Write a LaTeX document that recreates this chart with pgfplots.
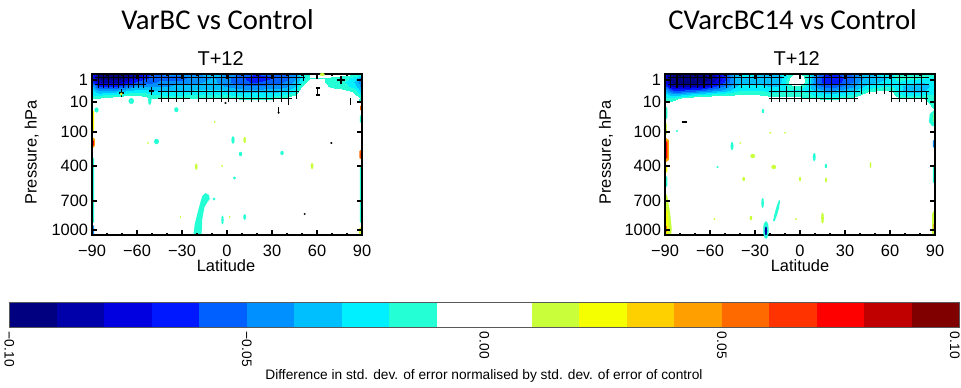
\documentclass[border=0pt]{standalone}
\usepackage{fontspec}
\setmainfont{Liberation Sans}
\newfontfamily\titlefont{Carlito}
\usepackage{pgfplots}
\pgfplotsset{compat=1.18}

% 20-step diverging scale, -0.10 ... 0.10 in steps of 0.01
\definecolor{c1}{RGB}{0,0,128}
\definecolor{c2}{RGB}{0,0,170}
\definecolor{c3}{RGB}{0,0,225}
\definecolor{c4}{RGB}{0,24,255}
\definecolor{c5}{RGB}{0,96,255}
\definecolor{c6}{RGB}{0,144,255}
\definecolor{c7}{RGB}{0,191,255}
\definecolor{c8}{RGB}{0,240,255}
\definecolor{c9}{RGB}{37,255,213}
\definecolor{c10}{RGB}{255,255,255}
\definecolor{c11}{RGB}{255,255,255}
\definecolor{c12}{RGB}{200,255,58}
\definecolor{c13}{RGB}{245,255,0}
\definecolor{c14}{RGB}{255,208,0}
\definecolor{c15}{RGB}{255,160,0}
\definecolor{c16}{RGB}{255,106,0}
\definecolor{c17}{RGB}{255,51,0}
\definecolor{c18}{RGB}{255,0,0}
\definecolor{c19}{RGB}{192,0,0}
\definecolor{c20}{RGB}{128,0,0}

\pgfplotsset{
  colormap={diff}{rgb255=(0,0,128) rgb255=(0,0,170) rgb255=(0,0,225) rgb255=(0,24,255)
    rgb255=(0,96,255) rgb255=(0,144,255) rgb255=(0,191,255) rgb255=(0,240,255)
    rgb255=(37,255,213) rgb255=(255,255,255) rgb255=(255,255,255) rgb255=(200,255,58)
    rgb255=(245,255,0) rgb255=(255,208,0) rgb255=(255,160,0) rgb255=(255,106,0)
    rgb255=(255,51,0) rgb255=(255,0,0) rgb255=(192,0,0) rgb255=(128,0,0) rgb255=(128,0,0)},
  panel/.style={
    scale only axis, width=202.5pt, height=120.75pt, anchor=south west,
    xmin=-90, xmax=90, ymin=0, ymax=161, y dir=reverse,
    xtick={-90,-60,-30,0,30,60,90},
    xticklabels={−90,−60,−30,0,30,60,90},
    minor xtick={-80,-70,-50,-40,-20,-10,10,20,40,50,70,80},
    ytick={6,28,58,92,127,156},
    yticklabels={1,10,100,400,700,1000},
    tick align=inside, tick pos=both,
    major tick length=3.75pt, minor tick length=1.8pt,
    every tick/.style={black, line width=1.2pt},
    axis line style={line width=1.3pt},
    tick label style={font=\fontsize{12.3}{14}\selectfont, inner sep=0pt},
    xticklabel style={yshift=-7.5pt},
    yticklabel style={xshift=-2.8pt},
    colormap name=diff, colormap access=piecewise constant,
    point meta min=-10, point meta max=10,
    unbounded coords=jump,
    axis on top,
  },
  hatch/.style={black, line width=0.9pt},
  blob/.style n args={3}{only marks, mark=*, color=#1, mark size=#2,
    mark options={fill=#1, draw=#1, line width=0.1pt, yscale=#3}},
  edge/.style={fill=#1, draw=none},
}

\begin{document}
\begin{tikzpicture}
\path[use as bounding box] (0,0) rectangle (720.75pt,290.25pt);

% ---------------- VarBC vs Control ----------------
\begin{axis}[panel, at={(69pt,114pt)}]
% values in units of 0.01; y is the model-level position (top = 1 hPa)
\addplot[surf, shader=interp, mesh/ordering=y varies, mesh/rows=10, mesh/cols=37,
  point meta=explicit] table[row sep=\\, meta=v] {
lat u v\\
-90 0 -6\\ -90 4 -7\\ -90 8 -6\\ -90 12 -4\\ -90 16 -3\\ -90 20 -2.5\\ -90 24 -1.5\\ -90 28 -0.5\\ -90 32 -1.5\\ -90 36 -1\\
-85 0 -9.5\\ -85 4 -9.5\\ -85 8 -8.5\\ -85 12 -6.5\\ -85 16 -4.5\\ -85 20 -3\\ -85 24 -1.5\\ -85 28 -0.5\\ -85 32 0\\ -85 36 0\\
-80 0 -9.5\\ -80 4 -9.5\\ -80 8 -8.5\\ -80 12 -6.5\\ -80 16 -4.5\\ -80 20 -2.5\\ -80 24 -1.2\\ -80 28 0\\ -80 32 0\\ -80 36 0\\
-75 0 -9.5\\ -75 4 -9.5\\ -75 8 -8.5\\ -75 12 -6.5\\ -75 16 -4.5\\ -75 20 -2.5\\ -75 24 -1\\ -75 28 0\\ -75 32 0\\ -75 36 0\\
-70 0 -9.5\\ -70 4 -9.3\\ -70 8 -8\\ -70 12 -6\\ -70 16 -4\\ -70 20 -2.5\\ -70 24 -0.5\\ -70 28 0\\ -70 32 0\\ -70 36 0\\
-65 0 -9\\ -65 4 -8.5\\ -65 8 -7\\ -65 12 -5.5\\ -65 16 -3.5\\ -65 20 -2\\ -65 24 -0.5\\ -65 28 0\\ -65 32 0\\ -65 36 0\\
-60 0 -8\\ -60 4 -7.5\\ -60 8 -6\\ -60 12 -4.5\\ -60 16 -3.2\\ -60 20 -2\\ -60 24 -0.8\\ -60 28 0\\ -60 32 0\\ -60 36 0\\
-55 0 -7\\ -55 4 -6.5\\ -55 8 -5.5\\ -55 12 -4.5\\ -55 16 -3\\ -55 20 -2\\ -55 24 -1\\ -55 28 0\\ -55 32 0\\ -55 36 0\\
-50 0 -6\\ -50 4 -6\\ -50 8 -5.5\\ -50 12 -4.5\\ -50 16 -3.5\\ -50 20 -2.5\\ -50 24 -1.5\\ -50 28 -0.5\\ -50 32 0\\ -50 36 0\\
-45 0 -5.5\\ -45 4 -5.5\\ -45 8 -5\\ -45 12 -4.5\\ -45 16 -3.5\\ -45 20 -2.5\\ -45 24 -1.5\\ -45 28 0\\ -45 32 0\\ -45 36 0\\
-40 0 -5\\ -40 4 -5.5\\ -40 8 -5\\ -40 12 -4.5\\ -40 16 -3.5\\ -40 20 -2.8\\ -40 24 -1.5\\ -40 28 -0.5\\ -40 32 0\\ -40 36 0\\
-35 0 -5\\ -35 4 -5.5\\ -35 8 -5\\ -35 12 -4\\ -35 16 -3.5\\ -35 20 -2.8\\ -35 24 -1.5\\ -35 28 -0.5\\ -35 32 0\\ -35 36 0\\
-30 0 -5\\ -30 4 -5.5\\ -30 8 -5\\ -30 12 -4\\ -30 16 -3.5\\ -30 20 -2.8\\ -30 24 -1.5\\ -30 28 -0.5\\ -30 32 0\\ -30 36 0\\
-25 0 -4.5\\ -25 4 -5\\ -25 8 -4.5\\ -25 12 -4\\ -25 16 -3.5\\ -25 20 -2.5\\ -25 24 -1.5\\ -25 28 -0.5\\ -25 32 0\\ -25 36 0\\
-20 0 -4.5\\ -20 4 -5\\ -20 8 -4.5\\ -20 12 -4\\ -20 16 -3.2\\ -20 20 -2.5\\ -20 24 -1.5\\ -20 28 -0.5\\ -20 32 0\\ -20 36 0\\
-15 0 -4\\ -15 4 -4.5\\ -15 8 -4.2\\ -15 12 -3.8\\ -15 16 -3.2\\ -15 20 -2.5\\ -15 24 -1.5\\ -15 28 -0.5\\ -15 32 0\\ -15 36 0\\
-10 0 -4\\ -10 4 -4.2\\ -10 8 -4\\ -10 12 -3.8\\ -10 16 -3.2\\ -10 20 -2.5\\ -10 24 -1.5\\ -10 28 -0.5\\ -10 32 0\\ -10 36 0\\
-5 0 -4\\ -5 4 -4.5\\ -5 8 -4.5\\ -5 12 -4\\ -5 16 -3.2\\ -5 20 -2.5\\ -5 24 -1.5\\ -5 28 -0.5\\ -5 32 0\\ -5 36 0\\
0 0 -4.5\\ 0 4 -5\\ 0 8 -5\\ 0 12 -4.5\\ 0 16 -3.5\\ 0 20 -2.5\\ 0 24 -1.5\\ 0 28 -0.5\\ 0 32 0\\ 0 36 0\\
5 0 -5\\ 5 4 -5.5\\ 5 8 -5.5\\ 5 12 -4.8\\ 5 16 -3.8\\ 5 20 -2.8\\ 5 24 -1.5\\ 5 28 -0.5\\ 5 32 0\\ 5 36 0\\
10 0 -5.5\\ 10 4 -6\\ 10 8 -5.8\\ 10 12 -5\\ 10 16 -4\\ 10 20 -3\\ 10 24 -1.8\\ 10 28 -0.5\\ 10 32 0\\ 10 36 0\\
15 0 -6\\ 15 4 -6.5\\ 15 8 -6.2\\ 15 12 -5.2\\ 15 16 -4.2\\ 15 20 -3\\ 15 24 -1.8\\ 15 28 -0.5\\ 15 32 0\\ 15 36 0\\
20 0 -6.2\\ 20 4 -6.5\\ 20 8 -6.2\\ 20 12 -5.2\\ 20 16 -4.2\\ 20 20 -3\\ 20 24 -1.8\\ 20 28 -0.5\\ 20 32 0\\ 20 36 0\\
25 0 -6\\ 25 4 -6.5\\ 25 8 -6\\ 25 12 -5\\ 25 16 -4\\ 25 20 -3\\ 25 24 -1.8\\ 25 28 -0.5\\ 25 32 0\\ 25 36 0\\
30 0 -5.8\\ 30 4 -6.2\\ 30 8 -5.8\\ 30 12 -5\\ 30 16 -4\\ 30 20 -3\\ 30 24 -1.8\\ 30 28 -0.5\\ 30 32 0\\ 30 36 0\\
35 0 -5.5\\ 35 4 -6\\ 35 8 -5.5\\ 35 12 -4.8\\ 35 16 -3.8\\ 35 20 -2.8\\ 35 24 -1.5\\ 35 28 -0.5\\ 35 32 0\\ 35 36 0\\
40 0 -5\\ 40 4 -5.5\\ 40 8 -5\\ 40 12 -4.5\\ 40 16 -3.5\\ 40 20 -2.5\\ 40 24 -1.2\\ 40 28 0\\ 40 32 0\\ 40 36 0\\
45 0 -4.5\\ 45 4 -4.5\\ 45 8 -4\\ 45 12 -3.5\\ 45 16 -2.8\\ 45 20 -1.8\\ 45 24 -0.5\\ 45 28 0\\ 45 32 0\\ 45 36 0\\
50 0 -2.5\\ 50 4 -3\\ 50 8 -2.5\\ 50 12 -1.5\\ 50 16 -0.5\\ 50 20 0\\ 50 24 0\\ 50 28 0\\ 50 32 0\\ 50 36 0\\
55 0 -1.2\\ 55 4 -1.5\\ 55 8 -0.5\\ 55 12 0\\ 55 16 0\\ 55 20 0\\ 55 24 0\\ 55 28 0\\ 55 32 0\\ 55 36 0\\
60 0 -1.2\\ 60 4 -1.5\\ 60 8 -0.5\\ 60 12 0\\ 60 16 0\\ 60 20 0\\ 60 24 0\\ 60 28 0\\ 60 32 0\\ 60 36 0\\
65 0 -0.5\\ 65 4 -1.5\\ 65 8 -1.5\\ 65 12 -1.2\\ 65 16 -0.5\\ 65 20 0\\ 65 24 0\\ 65 28 0\\ 65 32 0\\ 65 36 0\\
70 0 -0.5\\ 70 4 -1.8\\ 70 8 -2\\ 70 12 -1.8\\ 70 16 -1\\ 70 20 0\\ 70 24 0\\ 70 28 0\\ 70 32 0\\ 70 36 0\\
75 0 -0.8\\ 75 4 -2\\ 75 8 -2.2\\ 75 12 -2\\ 75 16 -1.2\\ 75 20 0\\ 75 24 0\\ 75 28 0\\ 75 32 0\\ 75 36 0\\
80 0 -1\\ 80 4 -2.2\\ 80 8 -2.5\\ 80 12 -2.2\\ 80 16 -1.5\\ 80 20 -0.5\\ 80 24 0\\ 80 28 0\\ 80 32 0\\ 80 36 0\\
85 0 -1.5\\ 85 4 -3\\ 85 8 -3.5\\ 85 12 -3\\ 85 16 -2\\ 85 20 -1.5\\ 85 24 -0.5\\ 85 28 -1.2\\ 85 32 0\\ 85 36 0\\
90 0 -2\\ 90 4 -5\\ 90 8 -5.5\\ 90 12 -5\\ 90 16 -4\\ 90 20 -3\\ 90 24 -2\\ 90 28 -1.5\\ 90 32 -1.2\\ 90 36 0\\
};
% strips along the polar edges
\addplot[edge=c13] coordinates {(-91,34) (-88.5,38) (-88.7,58) (-91,62)} --cycle;
\addplot[edge=c15] coordinates {(-91,62) (-88,65) (-88,72) (-91,76)} --cycle;
\addplot[edge=c18] coordinates {(-91,64) (-88.8,67) (-88.8,71) (-91,73)} --cycle;
\addplot[edge=c9] coordinates {(-91,80) (-88.5,85) (-88.5,148) (-91,152)} --cycle;
\addplot[edge=c6] coordinates {(-91,150) (-88.5,152) (-88.5,162) (-91,162)} --cycle;
\addplot[edge=c16] coordinates {(91,30) (88.8,32) (88.8,36) (91,38)} --cycle;
\addplot[edge=c9] coordinates {(91,40) (88.5,42) (88.5,48) (91,50)} --cycle;
\addplot[edge=c16] coordinates {(91,74) (88.3,77) (88.3,84) (91,87)} --cycle;
\addplot[edge=c18] coordinates {(91,77) (89,79) (89,83) (91,85)} --cycle;
\addplot[edge=c9] coordinates {(91,88) (88.6,92) (88.6,148) (91,152)} --cycle;
\addplot[edge=c12] coordinates {(91,150) (88,155) (88,162) (91,162)} --cycle;
% long streak in the lower troposphere
\addplot[edge=c9] coordinates {(-22.5,162) (-21.5,150) (-19.5,138) (-17.5,127) (-16.5,122)
  (-14.5,119) (-12,121) (-11.5,125) (-13,128) (-15,133) (-16.5,145) (-17,162)} --cycle;
% isolated small patches
\addplot[blob={c9}{1.8pt}{1.1}] coordinates {(-47,67.5)};
\addplot[blob={c9}{1.1pt}{2.5}] coordinates {(4,66)};
\addplot[blob={c12}{0.9pt}{2.5}] coordinates {(11.8,66)};
\addplot[blob={c9}{1.2pt}{1.3}] coordinates {(9,80) (36.7,79)};
\addplot[blob={c12}{0.9pt}{2.5}] coordinates {(-20.5,92.7) (56.7,92)};
\addplot[blob={c9}{1pt}{1}] coordinates {(5,104) (-8.7,125)};
\addplot[blob={c9}{0.8pt}{4}] coordinates {(-3,146)};
\addplot[blob={c9}{1pt}{2}] coordinates {(11.8,143)};
\addplot[blob={c9}{2pt}{1.1}] coordinates {(-63.8,27)};
\addplot[blob={c9}{1.2pt}{3}] coordinates {(-51.5,26)};
\addplot[blob={c9}{1.5pt}{1.2}] coordinates {(-33.8,35.7) (-87,36)};
\addplot[blob={c12}{1pt}{1}] coordinates {(-70.5,20)};
\addplot[blob={c12}{1.8pt}{0.6}] coordinates {(63.5,0.5)};
\addplot[blob={c12}{0.5pt}{1.5}] coordinates {(-52.7,69) (-8.2,48) (-31,143) (1.8,143) (-3.3,92)};
\addplot[blob={black}{0.7pt}{1}] coordinates {(51.8,140) (69.6,69) (34.4,38.7) (-1,29)};
% significance hatching
\addplot[hatch] coordinates {
 (-85.8,0.5) (-85.8,13.5) (nan,nan) (-82.5,0.5) (-82.5,13.5) (nan,nan)
 (-79.2,0.5) (-79.2,13.5) (nan,nan) (-75.8,0.5) (-75.8,13.5) (nan,nan)
 (-72.5,0.5) (-72.5,13.5) (nan,nan) (-69.2,0.5) (-69.2,13.5) (nan,nan)
 (-65.8,0.5) (-65.8,13.5) (nan,nan) (-62.5,0.5) (-62.5,13.5) (nan,nan)
 (-59.2,0.5) (-59.2,13.5) (nan,nan) (-55.8,0.5) (-55.8,13.5) (nan,nan)
 (-53.75,0.5) (-53.75,8) (nan,nan) (-48.75,0.5) (-48.75,8) (nan,nan)
 (-43.75,0.5) (-43.75,28) (nan,nan) (-38.75,0.5) (-38.75,28) (nan,nan)
 (-33.75,0.5) (-33.75,28) (nan,nan) (-28.75,0.5) (-28.75,28) (nan,nan)
 (-23.75,0.5) (-23.75,21) (nan,nan) (-18.75,0.5) (-18.75,28) (nan,nan)
 (-13.75,0.5) (-13.75,28) (nan,nan) (-8.75,0.5) (-8.75,28) (nan,nan)
 (-3.75,0.5) (-3.75,28) (nan,nan) (1.25,0.5) (1.25,28) (nan,nan)
 (6.25,0.5) (6.25,28) (nan,nan) (11.25,0.5) (11.25,28) (nan,nan)
 (16.25,0.5) (16.25,28) (nan,nan) (21.25,0.5) (21.25,28) (nan,nan)
 (26.25,0.5) (26.25,28) (nan,nan) (31.25,0.5) (31.25,28) (nan,nan)
 (36.25,0.5) (36.25,28) (nan,nan) (41.25,0.5) (41.25,31) (nan,nan)
 (46.25,0.5) (46.25,25) (nan,nan) (51.25,0.5) (51.25,7) (nan,nan)
 (-88,3.5) (52,3.5) (nan,nan) (-88,10.5) (-54,10.5) (nan,nan) (-46,10.5) (49,10.5) (nan,nan)
 (-46,17.5) (48,17.5) (nan,nan) (-46,24.5) (-24.5,24.5) (nan,nan) (-19.5,24.5) (43,24.5) (nan,nan)
 (-70.5,15) (-70.5,23) (nan,nan) (-72,19) (-69,19) (nan,nan)
 (-50.5,13) (-50.5,21) (nan,nan) (-52,17) (-49,17) (nan,nan)
 (60.5,13) (60.5,22) (nan,nan) (59,14) (62,14) (nan,nan) (59,21) (62,21) (nan,nan)
 (76,2) (76,10) (nan,nan) (73.5,6) (78.5,6) (nan,nan)
 (82.5,24) (82.5,31) (nan,nan) (34.5,33) (34.5,39)
};
\end{axis}

% ---------------- CVarcBC14 vs Control ----------------
\begin{axis}[panel, at={(498.75pt,114pt)}]
\addplot[surf, shader=interp, mesh/ordering=y varies, mesh/rows=10, mesh/cols=37,
  point meta=explicit] table[row sep=\\, meta=v] {
lat u v\\
-90 0 -7\\ -90 4 -8\\ -90 8 -7.5\\ -90 12 -6\\ -90 16 -4\\ -90 20 -3\\ -90 24 -2\\ -90 28 -1.5\\ -90 32 -1.2\\ -90 36 -0.5\\
-85 0 -9.5\\ -85 4 -9.6\\ -85 8 -9.5\\ -85 12 -8.5\\ -85 16 -6.5\\ -85 20 -4\\ -85 24 -2\\ -85 28 -1.2\\ -85 32 -0.5\\ -85 36 0\\
-80 0 -9.5\\ -80 4 -9.6\\ -80 8 -9.5\\ -80 12 -8.5\\ -80 16 -6.5\\ -80 20 -4\\ -80 24 -1.5\\ -80 28 -0.5\\ -80 32 0\\ -80 36 0\\
-75 0 -9.5\\ -75 4 -9.6\\ -75 8 -9.5\\ -75 12 -8.5\\ -75 16 -6\\ -75 20 -3.5\\ -75 24 -1.2\\ -75 28 0\\ -75 32 0\\ -75 36 0\\
-70 0 -9.5\\ -70 4 -9.6\\ -70 8 -9.4\\ -70 12 -8.2\\ -70 16 -6\\ -70 20 -3\\ -70 24 -0.8\\ -70 28 0\\ -70 32 0\\ -70 36 0\\
-65 0 -9.3\\ -65 4 -9.5\\ -65 8 -9.2\\ -65 12 -8\\ -65 16 -5.5\\ -65 20 -2.8\\ -65 24 -0.5\\ -65 28 0\\ -65 32 0\\ -65 36 0\\
-60 0 -8.5\\ -60 4 -9\\ -60 8 -8.5\\ -60 12 -7\\ -60 16 -5\\ -60 20 -2.5\\ -60 24 -0.5\\ -60 28 0\\ -60 32 0\\ -60 36 0\\
-55 0 -7.5\\ -55 4 -8\\ -55 8 -7.5\\ -55 12 -6\\ -55 16 -4.5\\ -55 20 -2\\ -55 24 -0.5\\ -55 28 0\\ -55 32 0\\ -55 36 0\\
-50 0 -6\\ -50 4 -6.5\\ -50 8 -6\\ -50 12 -5\\ -50 16 -4\\ -50 20 -2\\ -50 24 -0.5\\ -50 28 0\\ -50 32 0\\ -50 36 0\\
-45 0 -4\\ -45 4 -4.5\\ -45 8 -4.5\\ -45 12 -4\\ -45 16 -3\\ -45 20 -1.8\\ -45 24 -0.5\\ -45 28 0\\ -45 32 0\\ -45 36 0\\
-40 0 -3.2\\ -40 4 -3.5\\ -40 8 -3.5\\ -40 12 -3\\ -40 16 -2.5\\ -40 20 -1.5\\ -40 24 -0.5\\ -40 28 0\\ -40 32 0\\ -40 36 0\\
-35 0 -3\\ -35 4 -3.5\\ -35 8 -3.5\\ -35 12 -3\\ -35 16 -2.5\\ -35 20 -1.5\\ -35 24 -0.5\\ -35 28 0\\ -35 32 0\\ -35 36 0\\
-30 0 -3.2\\ -30 4 -3.8\\ -30 8 -3.5\\ -30 12 -3\\ -30 16 -2.5\\ -30 20 -1.5\\ -30 24 -0.5\\ -30 28 0\\ -30 32 0\\ -30 36 0\\
-25 0 -3.5\\ -25 4 -4\\ -25 8 -3.8\\ -25 12 -3.2\\ -25 16 -2.5\\ -25 20 -1.8\\ -25 24 -0.8\\ -25 28 0\\ -25 32 0\\ -25 36 0\\
-20 0 -3.8\\ -20 4 -4.2\\ -20 8 -4\\ -20 12 -3.5\\ -20 16 -2.8\\ -20 20 -2\\ -20 24 -1.2\\ -20 28 -0.5\\ -20 32 0\\ -20 36 0\\
-15 0 -3.5\\ -15 4 -4\\ -15 8 -3.8\\ -15 12 -3.5\\ -15 16 -2.8\\ -15 20 -2\\ -15 24 -1.2\\ -15 28 -0.5\\ -15 32 0\\ -15 36 0\\
-10 0 -2.5\\ -10 4 -2.8\\ -10 8 -2.5\\ -10 12 -2.8\\ -10 16 -2.5\\ -10 20 -2\\ -10 24 -1.2\\ -10 28 -0.5\\ -10 32 0\\ -10 36 0\\
-5 0 -1.5\\ -5 4 -0.5\\ -5 8 0\\ -5 12 -1.5\\ -5 16 -2.5\\ -5 20 -2\\ -5 24 -1.2\\ -5 28 -0.5\\ -5 32 0\\ -5 36 0\\
0 0 -1.5\\ 0 4 -0.5\\ 0 8 0\\ 0 12 -1.5\\ 0 16 -2.5\\ 0 20 -2\\ 0 24 -1.2\\ 0 28 -0.5\\ 0 32 0\\ 0 36 0\\
5 0 -2.5\\ 5 4 -2.5\\ 5 8 -2.5\\ 5 12 -2.8\\ 5 16 -2.8\\ 5 20 -2.2\\ 5 24 -1.2\\ 5 28 -0.5\\ 5 32 0\\ 5 36 0\\
10 0 -4.5\\ 10 4 -5\\ 10 8 -5\\ 10 12 -4.5\\ 10 16 -3.5\\ 10 20 -2.8\\ 10 24 -1.5\\ 10 28 -0.5\\ 10 32 0\\ 10 36 0\\
15 0 -6\\ 15 4 -6.5\\ 15 8 -6.5\\ 15 12 -5.5\\ 15 16 -4.2\\ 15 20 -3\\ 15 24 -1.8\\ 15 28 -0.5\\ 15 32 0\\ 15 36 0\\
20 0 -6.5\\ 20 4 -7\\ 20 8 -6.8\\ 20 12 -5.8\\ 20 16 -4.5\\ 20 20 -3.2\\ 20 24 -1.8\\ 20 28 -0.5\\ 20 32 0\\ 20 36 0\\
25 0 -6.2\\ 25 4 -6.8\\ 25 8 -6.5\\ 25 12 -5.5\\ 25 16 -4.2\\ 25 20 -3\\ 25 24 -1.8\\ 25 28 -0.5\\ 25 32 0\\ 25 36 0\\
30 0 -5.5\\ 30 4 -6\\ 30 8 -5.8\\ 30 12 -5\\ 30 16 -4\\ 30 20 -2.8\\ 30 24 -1.5\\ 30 28 -0.5\\ 30 32 0\\ 30 36 0\\
35 0 -5\\ 35 4 -5.5\\ 35 8 -5.2\\ 35 12 -4.5\\ 35 16 -3.5\\ 35 20 -2.5\\ 35 24 -1.2\\ 35 28 0\\ 35 32 0\\ 35 36 0\\
40 0 -4\\ 40 4 -4.5\\ 40 8 -4.2\\ 40 12 -3.8\\ 40 16 -2.8\\ 40 20 -1.8\\ 40 24 -0.5\\ 40 28 0\\ 40 32 0\\ 40 36 0\\
45 0 -3.5\\ 45 4 -4\\ 45 8 -3.8\\ 45 12 -3\\ 45 16 -2\\ 45 20 -0.8\\ 45 24 0\\ 45 28 0\\ 45 32 0\\ 45 36 0\\
50 0 -3.2\\ 50 4 -3.8\\ 50 8 -3.5\\ 50 12 -2.8\\ 50 16 -1.8\\ 50 20 -0.5\\ 50 24 0\\ 50 28 0\\ 50 32 0\\ 50 36 0\\
55 0 -3\\ 55 4 -3.5\\ 55 8 -3.2\\ 55 12 -2.5\\ 55 16 -1.5\\ 55 20 -0.5\\ 55 24 0\\ 55 28 0\\ 55 32 0\\ 55 36 0\\
60 0 -2.8\\ 60 4 -3.2\\ 60 8 -3\\ 60 12 -2.5\\ 60 16 -1.5\\ 60 20 -0.5\\ 60 24 0\\ 60 28 0\\ 60 32 0\\ 60 36 0\\
65 0 -1.5\\ 65 4 -2\\ 65 8 -2.5\\ 65 12 -3\\ 65 16 -3\\ 65 20 -2.5\\ 65 24 -1.2\\ 65 28 0\\ 65 32 0\\ 65 36 0\\
70 0 -1.5\\ 70 4 -2\\ 70 8 -2.8\\ 70 12 -3.5\\ 70 16 -3.5\\ 70 20 -2.8\\ 70 24 -1.5\\ 70 28 -0.5\\ 70 32 0\\ 70 36 0\\
75 0 -1.5\\ 75 4 -2\\ 75 8 -3\\ 75 12 -4\\ 75 16 -4\\ 75 20 -3\\ 75 24 -1.5\\ 75 28 -0.5\\ 75 32 0\\ 75 36 0\\
80 0 -1.5\\ 80 4 -2.2\\ 80 8 -3.2\\ 80 12 -4.2\\ 80 16 -4\\ 80 20 -3\\ 80 24 -1.5\\ 80 28 -0.5\\ 80 32 0\\ 80 36 0\\
85 0 -1.8\\ 85 4 -2.5\\ 85 8 -3\\ 85 12 -3.5\\ 85 16 -3\\ 85 20 -2.5\\ 85 24 -1.8\\ 85 28 -1.5\\ 85 32 -1.2\\ 85 36 -1\\
90 0 -2\\ 90 4 -2.5\\ 90 8 -2.5\\ 90 12 -2.5\\ 90 16 -2.5\\ 90 20 -2.5\\ 90 24 -2.2\\ 90 28 -2\\ 90 32 -1.8\\ 90 36 -1.5\\
};
% strips along the polar edges
\addplot[edge=c9] coordinates {(-91,30) (-88.5,34) (-88.5,44) (-91,48)} --cycle;
\addplot[edge=c12] coordinates {(-91,46) (-88.8,50) (-88.8,60) (-91,64)} --cycle;
\addplot[edge=c15] coordinates {(-91,62) (-87.5,66) (-87.5,86) (-91,90)} --cycle;
\addplot[edge=c18] coordinates {(-91,65) (-88.5,68) (-88.5,84) (-91,86)} --cycle;
\addplot[edge=c13] coordinates {(-91,88) (-88.5,92) (-88.5,98) (-91,100)} --cycle;
\addplot[edge=c9] coordinates {(-91,100) (-88.5,103) (-88.5,112) (-91,115)} --cycle;
\addplot[edge=c12] coordinates {(-91,115) (-88.5,122) (-86.5,140) (-85.5,155) (-86,162) (-91,162)} --cycle;
\addplot[edge=c13] coordinates {(-91,130) (-88.2,138) (-87.5,152) (-88,162) (-91,162)} --cycle;
\addplot[edge=c17] coordinates {(-91,150) (-89,152) (-89,158) (-91,160)} --cycle;
\addplot[edge=c9] coordinates {(91,34) (86.5,40) (86,48) (88,52) (91,52)} --cycle;
\addplot[edge=c13] coordinates {(91,36) (89,40) (89,48) (91,50)} --cycle;
\addplot[edge=c6] coordinates {(91,64) (88.5,67) (88.5,73) (91,75)} --cycle;
\addplot[edge=c9] coordinates {(91,88) (88.5,92) (88.5,108) (91,112)} --cycle;
\addplot[edge=c12] coordinates {(91,132) (88,140) (88,162) (91,162)} --cycle;
\addplot[edge=c17] coordinates {(91,148) (89,150) (89,155) (91,157)} --cycle;
% thin streak near 15S
\addplot[edge=c9] coordinates {(-18,147) (-17,140) (-15.5,132) (-14,126) (-13.3,127)
  (-14,134) (-15.3,141) (-16.8,147)} --cycle;
% isolated small patches
\addplot[blob={c9}{1pt}{3}] coordinates {(-45.3,72) (9.5,83)};
\addplot[blob={c12}{0.6pt}{1}] coordinates {(-39.8,69) (-57,145) (-2.7,145) (-19.8,58.7) (-10,58.7)};
\addplot[blob={c12}{1.7pt}{0.9}] coordinates {(-31.5,82) (-17.5,93)};
\addplot[blob={c9}{0.8pt}{2}] coordinates {(17.3,92) (-24.7,37)};
\addplot[blob={c12}{0.9pt}{1.8}] coordinates {(-37.5,105) (-32.7,144)};
\addplot[blob={c12}{0.7pt}{2.5}] coordinates {(0,105) (17.3,106)};
\addplot[blob={c12}{0.5pt}{4}] coordinates {(47,91)};
\addplot[blob={c9}{0.9pt}{4}] coordinates {(-24.9,129)};
\addplot[blob={c12}{1pt}{4}] coordinates {(15,144)};
\addplot[blob={c9}{2pt}{3.2}] coordinates {(-22.7,156)};
\addplot[blob={c2}{0.8pt}{4}] coordinates {(-22.7,157)};
\addplot[blob={c9}{0.7pt}{1}] coordinates {(-82,57) (-55,93)};
% significance hatching
\addplot[hatch] coordinates {
 (-86.5,0.5) (-86.5,13.5) (nan,nan) (-82,0.5) (-82,13.5) (nan,nan)
 (-77.5,0.5) (-77.5,13.5) (nan,nan) (-73,0.5) (-73,13.5) (nan,nan)
 (-68.5,0.5) (-68.5,13.5) (nan,nan) (-64,0.5) (-64,13.5) (nan,nan)
 (-58.75,0.5) (-58.75,13.5) (nan,nan) (-53.75,0.5) (-53.75,13.5) (nan,nan)
 (-48.75,0.5) (-48.75,13.5) (nan,nan) (-43.75,0.5) (-43.75,13.5) (nan,nan)
 (-38.75,0.5) (-38.75,13.5) (nan,nan) (-33.75,0.5) (-33.75,13.5) (nan,nan)
 (-28.75,0.5) (-28.75,13.5) (nan,nan) (-23.75,0.5) (-23.75,13.5) (nan,nan)
 (-18.75,0.5) (-18.75,28) (nan,nan) (-13.75,0.5) (-13.75,28) (nan,nan)
 (-8.75,12) (-8.75,28) (nan,nan) (-3.75,12) (-3.75,28) (nan,nan) (1.25,12) (1.25,28) (nan,nan)
 (6.25,0.5) (6.25,28) (nan,nan) (11.25,0.5) (11.25,28) (nan,nan)
 (16.25,0.5) (16.25,28) (nan,nan) (21.25,0.5) (21.25,28) (nan,nan)
 (26.25,0.5) (26.25,28) (nan,nan) (31.25,0.5) (31.25,28) (nan,nan)
 (36.25,0.5) (36.25,28) (nan,nan)
 (41.25,0.5) (41.25,20) (nan,nan) (46.25,0.5) (46.25,20) (nan,nan)
 (51.25,0.5) (51.25,20) (nan,nan) (56.25,0.5) (56.25,20) (nan,nan)
 (61.25,0.5) (61.25,28) (nan,nan) (66.25,0.5) (66.25,28) (nan,nan)
 (71.25,0.5) (71.25,28) (nan,nan) (76.25,0.5) (76.25,28) (nan,nan)
 (81.25,0.5) (81.25,28) (nan,nan) (84.5,18) (84.5,31) (nan,nan)
 (-88,3.5) (-10.5,3.5) (nan,nan) (3,3.5) (86,3.5) (nan,nan)
 (-88,10.5) (86,10.5) (nan,nan)
 (-21,17.5) (40,17.5) (nan,nan) (59,17.5) (86,17.5) (nan,nan)
 (-21,24.5) (38.5,24.5) (nan,nan) (61,24.5) (85,24.5) (nan,nan)
 (-78.5,48) (-75.5,48)
};
\end{axis}

% ---------------- colour scale ----------------
\begin{axis}[at={(7pt,44.8pt)}, anchor=south west, scale only axis,
  width=712.5pt, height=18.45pt, xmin=-0.1, xmax=0.1, ymin=0, ymax=1,
  ytick=\empty, xtick={-0.1,-0.05,0,0.05,0.1},
  xticklabels={−0.10,−0.05,0.00,0.05,{}},
  major tick length=0pt,
  xticklabel style={yshift=-3.3pt, rotate=-90, anchor=west, inner sep=0pt,
    font=\fontsize{10.3}{12}\selectfont},
  axis line style={line width=0.5pt, black!65},
  axis on top]
\addplot[edge=c1]  coordinates {(-0.10,0) (-0.09,0) (-0.09,1) (-0.10,1)} --cycle;
\addplot[edge=c2]  coordinates {(-0.09,0) (-0.08,0) (-0.08,1) (-0.09,1)} --cycle;
\addplot[edge=c3]  coordinates {(-0.08,0) (-0.07,0) (-0.07,1) (-0.08,1)} --cycle;
\addplot[edge=c4]  coordinates {(-0.07,0) (-0.06,0) (-0.06,1) (-0.07,1)} --cycle;
\addplot[edge=c5]  coordinates {(-0.06,0) (-0.05,0) (-0.05,1) (-0.06,1)} --cycle;
\addplot[edge=c6]  coordinates {(-0.05,0) (-0.04,0) (-0.04,1) (-0.05,1)} --cycle;
\addplot[edge=c7]  coordinates {(-0.04,0) (-0.03,0) (-0.03,1) (-0.04,1)} --cycle;
\addplot[edge=c8]  coordinates {(-0.03,0) (-0.02,0) (-0.02,1) (-0.03,1)} --cycle;
\addplot[edge=c9]  coordinates {(-0.02,0) (-0.01,0) (-0.01,1) (-0.02,1)} --cycle;
\addplot[edge=c10] coordinates {(-0.01,0) (0.00,0) (0.00,1) (-0.01,1)} --cycle;
\addplot[edge=c11] coordinates {(0.00,0) (0.01,0) (0.01,1) (0.00,1)} --cycle;
\addplot[edge=c12] coordinates {(0.01,0) (0.02,0) (0.02,1) (0.01,1)} --cycle;
\addplot[edge=c13] coordinates {(0.02,0) (0.03,0) (0.03,1) (0.02,1)} --cycle;
\addplot[edge=c14] coordinates {(0.03,0) (0.04,0) (0.04,1) (0.03,1)} --cycle;
\addplot[edge=c15] coordinates {(0.04,0) (0.05,0) (0.05,1) (0.04,1)} --cycle;
\addplot[edge=c16] coordinates {(0.05,0) (0.06,0) (0.06,1) (0.05,1)} --cycle;
\addplot[edge=c17] coordinates {(0.06,0) (0.07,0) (0.07,1) (0.06,1)} --cycle;
\addplot[edge=c18] coordinates {(0.07,0) (0.08,0) (0.08,1) (0.07,1)} --cycle;
\addplot[edge=c19] coordinates {(0.08,0) (0.09,0) (0.09,1) (0.08,1)} --cycle;
\addplot[edge=c20] coordinates {(0.09,0) (0.10,0) (0.10,1) (0.09,1)} --cycle;
\end{axis}
% the last scale label sits at the very right edge, kept just inside it
\node[rotate=-90, anchor=west, inner sep=0pt, font=\fontsize{10.3}{12}\selectfont]
  at (716.2pt,41.5pt) {0.10};

% ---------------- titles and labels ----------------
\node[anchor=base, font=\titlefont\fontsize{21.5}{24}\selectfont, inner sep=0pt]
  at (163.1pt,268.3pt) {VarBC vs Control};
\node[anchor=base, font=\titlefont\fontsize{21.5}{24}\selectfont, inner sep=0pt]
  at (594.4pt,268.3pt) {CVarcBC14 vs Control};
\node[anchor=base, font=\fontsize{15}{17}\selectfont, inner sep=0pt] at (165.5pt,241.5pt) {T+12};
\node[anchor=base, font=\fontsize{15}{17}\selectfont, inner sep=0pt] at (597.5pt,241.5pt) {T+12};
\node[rotate=90, font=\fontsize{12.3}{14}\selectfont, inner sep=0pt] at (23.8pt,175.9pt) {Pressure, hPa};
\node[rotate=90, font=\fontsize{12.3}{14}\selectfont, inner sep=0pt] at (454.4pt,175.9pt) {Pressure, hPa};
\node[anchor=base, font=\fontsize{12.3}{14}\selectfont, inner sep=0pt] at (169.5pt,86.5pt) {Latitude};
\node[anchor=base, font=\fontsize{12.3}{14}\selectfont, inner sep=0pt] at (600pt,86.5pt) {Latitude};
\node[anchor=base, font=\fontsize{10.3}{12}\selectfont, inner sep=0pt] at (363pt,5.8pt)
  {Difference in std. dev. of error normalised by std. dev. of error of control};
\end{tikzpicture}
\end{document}
